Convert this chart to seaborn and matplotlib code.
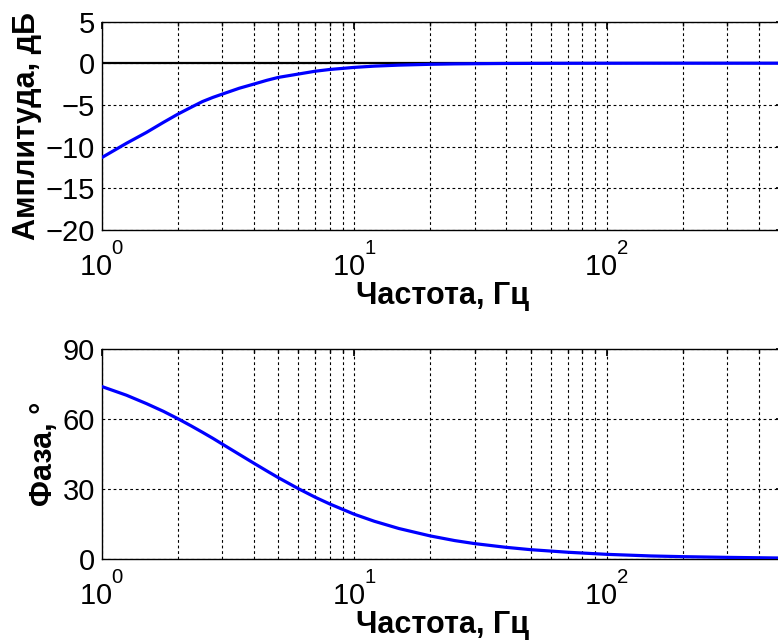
import numpy as np
import pandas as pd
import matplotlib
matplotlib.use("Agg")
import matplotlib.pyplot as plt
import seaborn as sns
from matplotlib.ticker import LogLocator, LogFormatterMathtext, NullFormatter, FixedLocator

# Frequency response of a first-order high-pass stage
freq_hz = [1, 1.25, 1.5, 1.75, 2, 2.25, 2.5, 2.75, 3, 3.5, 4, 4.5, 5, 6, 7, 8,
           10, 12, 15, 20, 25, 30, 40, 50, 70, 100, 150, 200, 300, 500]
amplitude_db = [-11.3, -9.6, -8.3, -7.1, -6.1, -5.3, -4.6, -4.1, -3.7, -3.0,
                -2.5, -2.05, -1.7, -1.3, -0.96, -0.75, -0.5, -0.35, -0.23,
                -0.13, -0.08, -0.06, -0.03, -0.02, -0.01, -0.005, 0.0, 0.0,
                0.0, 0.0]
phase_deg = [74, 70.3, 66.7, 63.4, 60.2, 57.2, 54.4, 51.8, 49.3, 44.9, 41.1,
             37.8, 34.9, 30.2, 26.5, 23.6, 19.2, 16.2, 13.1, 9.9, 7.9, 6.6,
             5.0, 4.0, 2.9, 2.0, 1.3, 1.0, 0.7, 0.4]

amp_ticks = [-20, -15, -10, -5, 0, 5]
phase_ticks = [0, 30, 60, 90]
x_label = "Частота, Гц"
amp_label = "Амплитуда, дБ"
phase_label = "Фаза, °"

df = pd.DataFrame({"freq": freq_hz, "amp": amplitude_db, "phase": phase_deg})

sns.set_theme(style="white")
plt.rcParams["font.family"] = ["Liberation Sans", "DejaVu Sans"]
plt.rcParams["mathtext.fontset"] = "custom"
plt.rcParams["mathtext.rm"] = "Liberation Sans"
plt.rcParams["mathtext.it"] = "Liberation Sans:italic"
plt.rcParams["mathtext.bf"] = "Liberation Sans:bold"

# raise the decade exponents a little higher above the base
try:
    import matplotlib._mathtext as _mt
    _mt.FontConstantsBase.sup1 = 1.3
except Exception:
    pass

fig = plt.figure(figsize=(7.78, 6.42), dpi=100)
ax1 = fig.add_axes([0.1311, 0.6417, 0.8753, 0.3248])
ax2 = fig.add_axes([0.1311, 0.1293, 0.8753, 0.3266])

for ax in (ax1, ax2):
    ax.set_xscale("log")

ax1.axhline(0, color="black", lw=1.6, zorder=2)
sns.lineplot(data=df, x="freq", y="amp", ax=ax1, color="#0000ff", lw=2.3, zorder=3)
sns.lineplot(data=df, x="freq", y="phase", ax=ax2, color="#0000ff", lw=2.3, zorder=3)

grid_kw = dict(color="black", linestyle=(0, (2.5, 2.5)), lw=0.8)
for ax, yt, ylab in ((ax1, amp_ticks, amp_label), (ax2, phase_ticks, phase_label)):
    ax.set_xlim(1, 500)
    ax.set_ylim(yt[0], yt[-1])
    ax.yaxis.set_major_locator(FixedLocator(yt))
    ax.xaxis.set_major_locator(LogLocator(base=10, numticks=10))
    ax.xaxis.set_major_formatter(LogFormatterMathtext())
    ax.xaxis.set_minor_locator(LogLocator(base=10, subs=np.arange(2, 10), numticks=20))
    ax.xaxis.set_minor_formatter(NullFormatter())
    ax.grid(which="both", axis="x", **grid_kw)
    ax.grid(which="major", axis="y", **grid_kw)
    ax.tick_params(which="both", direction="in", color="black", top=True, right=True,
                   labelsize=21, labelcolor="black")
    ax.tick_params(which="major", length=5)
    ax.tick_params(which="minor", length=3)
    ax.tick_params(axis="x", pad=9.5)
    ax.tick_params(axis="y", pad=5)
    for s in ax.spines.values():
        s.set_color("black")
        s.set_linewidth(1.0)
    ax.set_xlabel(x_label, fontsize=22, fontweight="bold", color="black", labelpad=-1)
    ax.set_ylabel(ylab, fontsize=22, fontweight="bold", color="black", labelpad=3)
    ax.set_axisbelow(False)

fig.savefig("out.png", dpi=100)
